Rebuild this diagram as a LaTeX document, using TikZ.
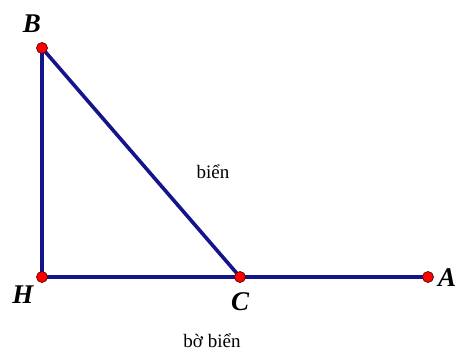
\documentclass[tikz,border=0pt]{standalone}
\usepackage{fontspec}
\setmainfont{Liberation Serif}
\begin{document}
\begin{tikzpicture}[x=1pt,y=-1pt,
  seg/.style={draw={rgb,255:red,20;green,20;blue,140},line width=3.6pt},
  pt/.style={circle,fill=red,draw={rgb,255:red,90;green,0;blue,0},line width=0.7pt,inner sep=0pt,minimum size=11pt},
  lbl/.style={font=\fontsize{27}{27}\selectfont\bfseries\itshape},
  txt/.style={font=\fontsize{19}{19}\selectfont}]
\useasboundingbox (0,0) rectangle (457,351);
\coordinate (B) at (42,48);
\coordinate (H) at (42,277);
\coordinate (C) at (240,277);
\coordinate (A) at (428,277);
\draw[seg] (B) -- (H) -- (A);
\draw[seg] (B) -- (C);
\node[pt] (pB) at (B) {};
\node[pt] (pH) at (H) {};
\node[pt] (pC) at (C) {};
\node[pt] (pA) at (A) {};
\node[lbl] (lB) at (32,24) {B};
\node[lbl] (lH) at (23,295) {H};
\node[lbl] (lC) at (240,302) {C};
\node[lbl] (lA) at (447,278) {A};
\node[txt] (t1) at (213,172) {biển};
\node[txt] (t2) at (212,341) {bờ biển};
\end{tikzpicture}
\end{document}
